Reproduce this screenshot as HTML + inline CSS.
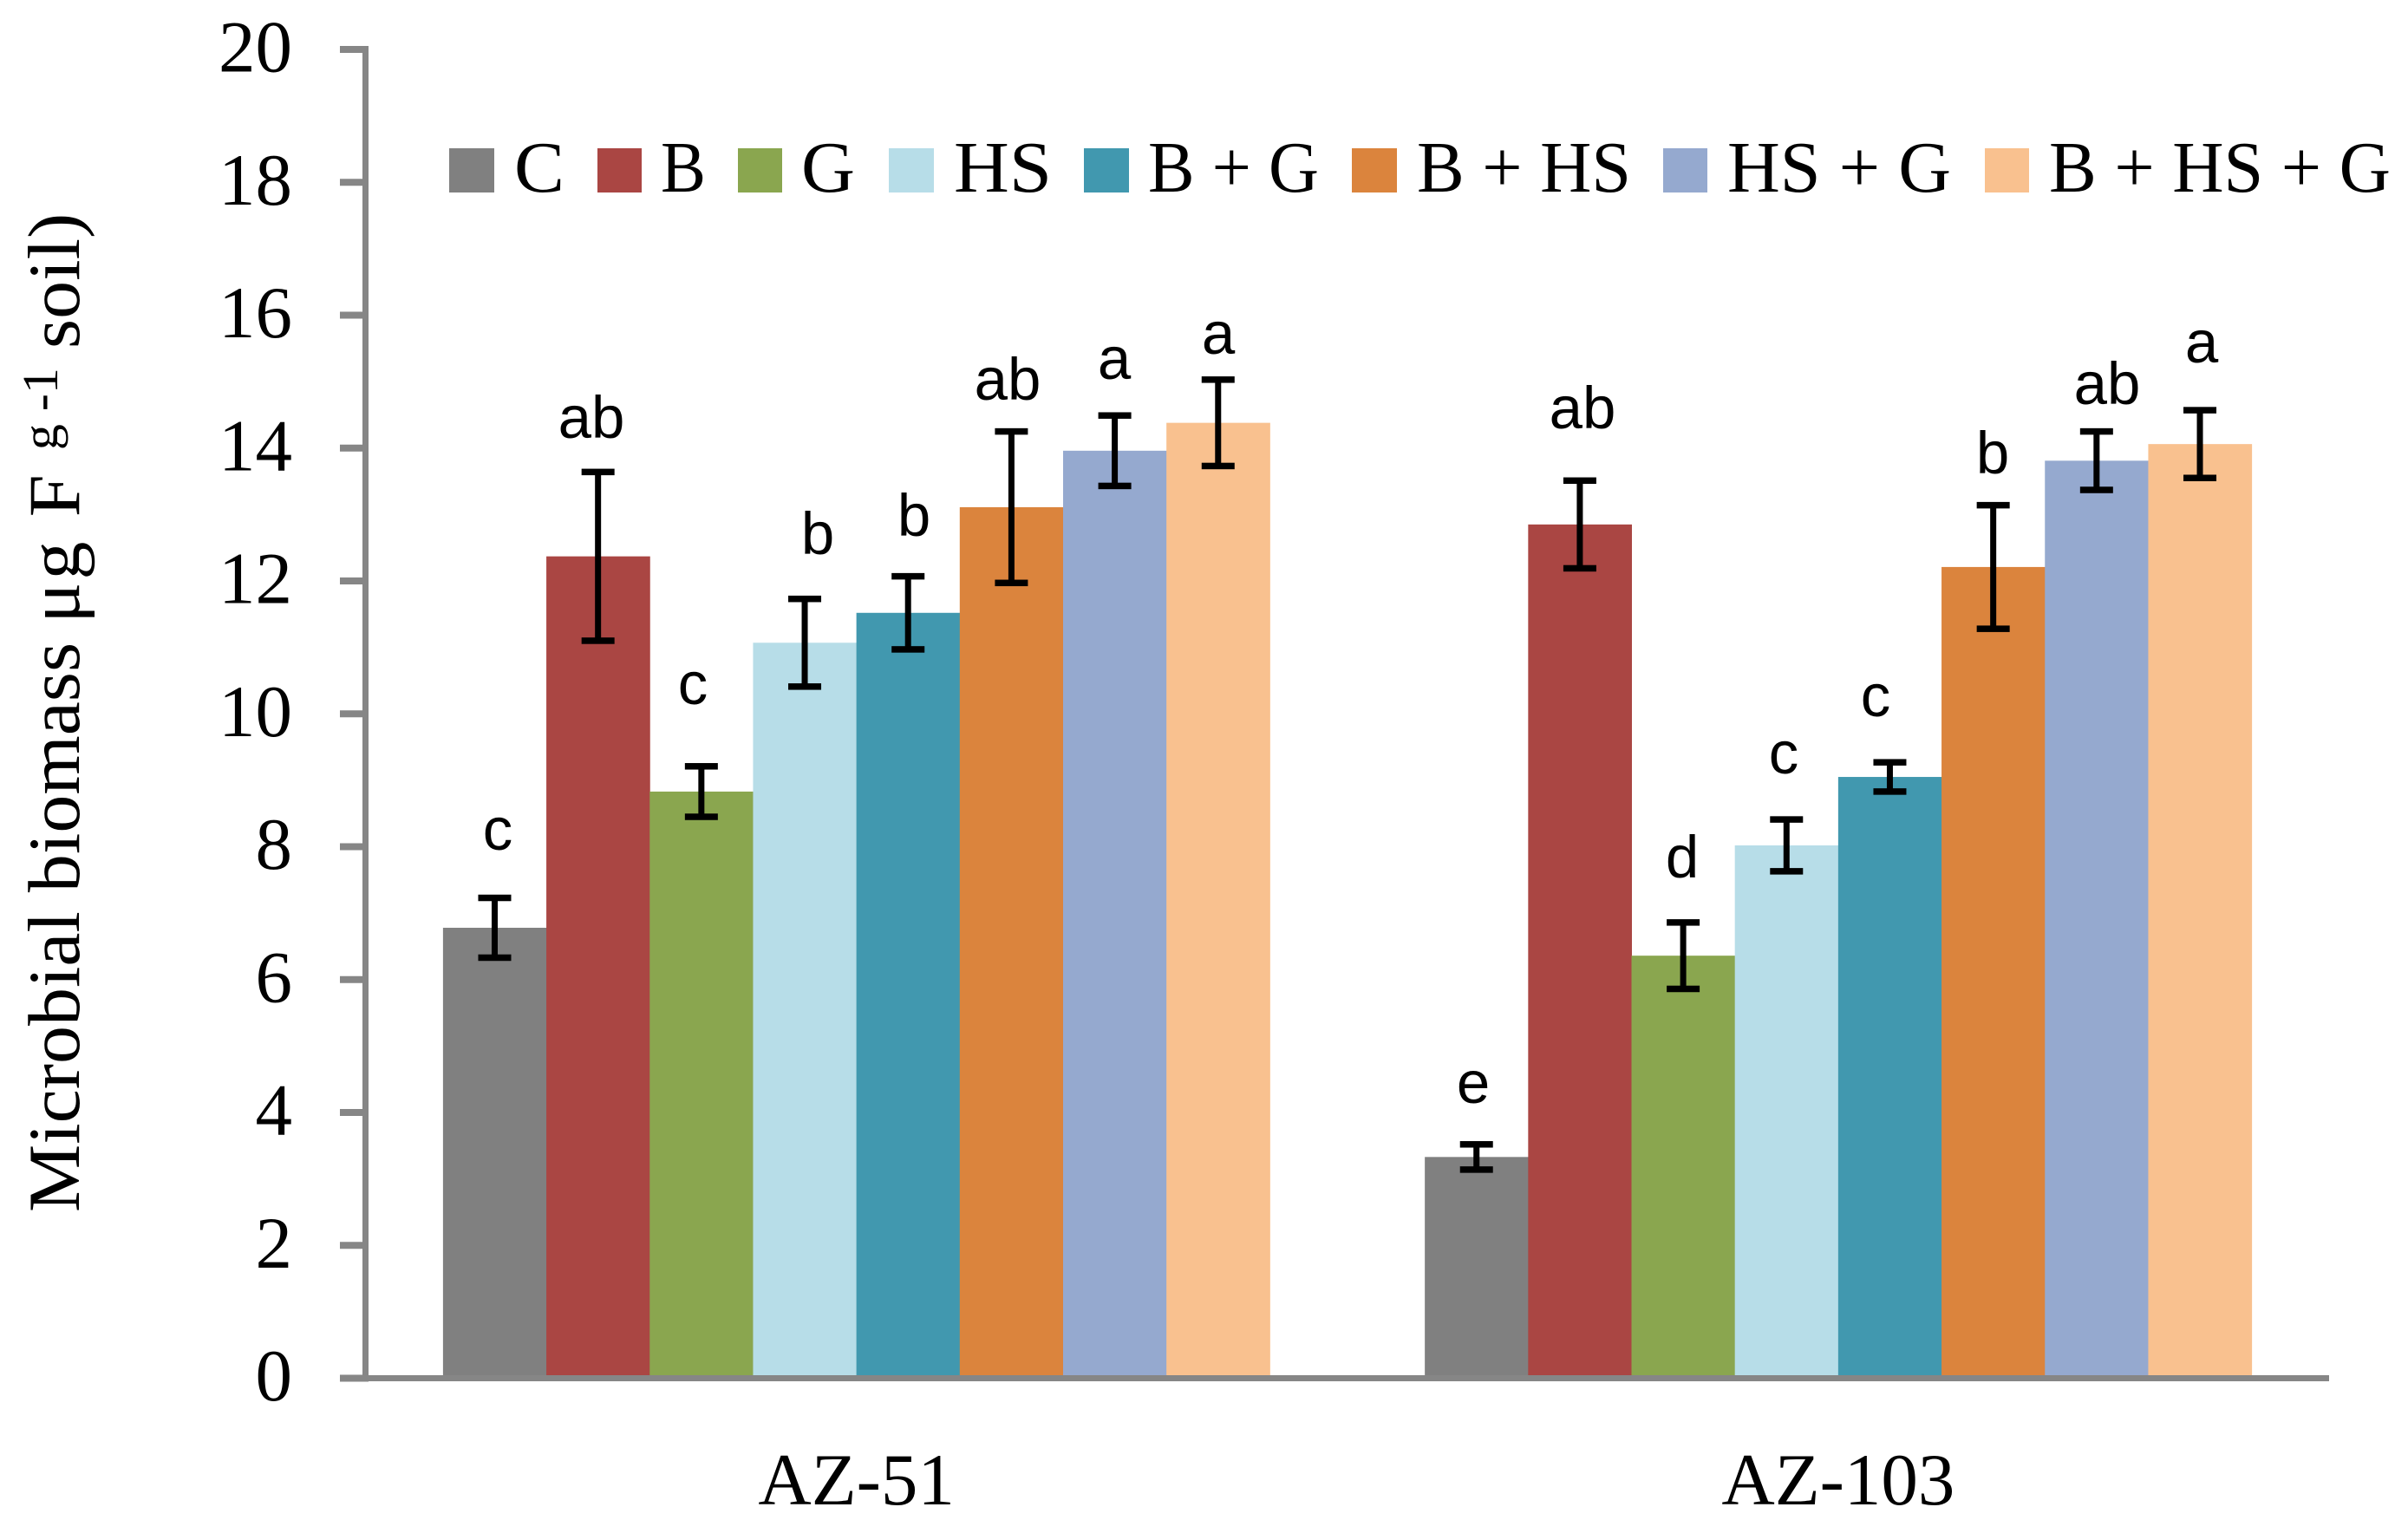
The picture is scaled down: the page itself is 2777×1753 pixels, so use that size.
<!DOCTYPE html>
<html lang="en">
<head>
<meta charset="utf-8">
<title>Microbial biomass chart</title>
<style>
  html, body { margin: 0; padding: 0; background: #fff; }
  svg { display: block; }
  .serif { font-family: "Liberation Serif", serif; fill: #000; }
  .tick-text { font-size: 85px; text-anchor: end; }
  .cat-text { font-size: 85px; text-anchor: middle; }
  .legend-text { font-size: 84px; }
  .title-text { font-size: 85px; }
  .title-sup { font-size: 58px; }
  .title-unit { letter-spacing: 3px; }
  .letter { font-family: "Liberation Sans", sans-serif; font-size: 69px; text-anchor: middle; fill: #000; }
  .axis { fill: #868686; }
  .err { fill: #000; }
  .s0 { fill: #808080; }
  .s1 { fill: #aa4643; }
  .s2 { fill: #8aa64f; }
  .s3 { fill: #b7dde8; }
  .s4 { fill: #4198af; }
  .s5 { fill: #db843d; }
  .s6 { fill: #95a9cf; }
  .s7 { fill: #f9c18f; }
</style>
</head>
<body>
<svg id="chart" xmlns="http://www.w3.org/2000/svg" width="2777" height="1753" viewBox="0 0 2777 1753">
  <rect x="0" y="0" width="2777" height="1753" fill="#fff"/>
  <g id="bars"></g>
  <g id="errors"></g>
  <g id="axes"></g>

  <text class="serif title-text" transform="translate(91,1398) rotate(-90) scale(1.035,1)">Microbial biomass <tspan class="title-unit">μg F </tspan><tspan class="title-sup" dy="-25">g -1</tspan><tspan dy="25"> soil)</tspan></text>

  <g>
    <g><rect class="s0" x="518" y="171" width="52" height="51"/><text class="serif legend-text" x="593" y="221" textLength="58" lengthAdjust="spacingAndGlyphs">C</text></g>
    <g><rect class="s1" x="689" y="171" width="51" height="51"/><text class="serif legend-text" x="762" y="221" textLength="52" lengthAdjust="spacingAndGlyphs">B</text></g>
    <g><rect class="s2" x="851" y="171" width="51" height="51"/><text class="serif legend-text" x="924" y="221" textLength="62" lengthAdjust="spacingAndGlyphs">G</text></g>
    <g><rect class="s3" x="1025" y="171" width="52" height="51"/><text class="serif legend-text" x="1100" y="221" textLength="113" lengthAdjust="spacingAndGlyphs">HS</text></g>
    <g><rect class="s4" x="1250" y="171" width="52" height="51"/><text class="serif legend-text" x="1324" y="221" textLength="197" lengthAdjust="spacingAndGlyphs">B + G</text></g>
    <g><rect class="s5" x="1559" y="171" width="52" height="51"/><text class="serif legend-text" x="1634" y="221" textLength="247" lengthAdjust="spacingAndGlyphs">B + HS</text></g>
    <g><rect class="s6" x="1918" y="171" width="51" height="51"/><text class="serif legend-text" x="1992" y="221" textLength="258" lengthAdjust="spacingAndGlyphs">HS + G</text></g>
    <g><rect class="s7" x="2289" y="171" width="51" height="51"/><text class="serif legend-text" x="2363" y="221" textLength="394" lengthAdjust="spacingAndGlyphs">B + HS + G</text></g>
  </g>

  <g>
    <text class="letter" x="574" y="980">c</text>
    <text class="letter" x="682" y="505">ab</text>
    <text class="letter" x="799" y="812">c</text>
    <text class="letter" x="943" y="639">b</text>
    <text class="letter" x="1054" y="618">b</text>
    <text class="letter" x="1162" y="461">ab</text>
    <text class="letter" x="1285" y="437">a</text>
    <text class="letter" x="1405" y="408">a</text>
  </g>
  <g>
    <text class="letter" x="1699" y="1272">e</text>
    <text class="letter" x="1825" y="494">ab</text>
    <text class="letter" x="1940" y="1012">d</text>
    <text class="letter" x="2057" y="892">c</text>
    <text class="letter" x="2163" y="826">c</text>
    <text class="letter" x="2298" y="546">b</text>
    <text class="letter" x="2430" y="466">ab</text>
    <text class="letter" x="2539" y="418">a</text>
  </g>
</svg>
<script>
const categories = ["AZ-51", "AZ-103"];
const seriesNames = ["C", "B", "G", "HS", "B + G", "B + HS", "HS + G", "B + HS + G"];
const az51Values = [6.78, 12.37, 8.83, 11.07, 11.52, 13.11, 13.96, 14.38];
const az103Values = [3.33, 12.85, 6.36, 8.02, 9.05, 12.21, 13.81, 14.06];
const az51Errors = [0.45, 1.27, 0.38, 0.66, 0.55, 1.14, 0.53, 0.65];
const az103Errors = [0.19, 0.66, 0.50, 0.39, 0.22, 0.93, 0.44, 0.51];
const yTicks = [0, 2, 4, 6, 8, 10, 12, 14, 16, 18, 20];

const SVG_NS = "http://www.w3.org/2000/svg";
const plotLeft = 421.5, plotRight = 2686, plotTop = 57, plotBottom = 1589.5;
const yMax = 20, gapBars = 1.5;
const catWidth = (plotRight - plotLeft) / categories.length;
const barWidth = catWidth / (seriesNames.length + gapBars);

function yScale(v) {
  return plotBottom - (v / yMax) * (plotBottom - plotTop);
}
function barLeft(catIndex, seriesIndex) {
  const center = plotLeft + catWidth * (catIndex + 0.5);
  return center - barWidth * seriesNames.length / 2 + barWidth * seriesIndex;
}
function makeRect(parent, x, y, w, h, cls) {
  const r = document.createElementNS(SVG_NS, "rect");
  r.setAttribute("x", x);
  r.setAttribute("y", y);
  r.setAttribute("width", w);
  r.setAttribute("height", h);
  r.setAttribute("class", cls);
  parent.appendChild(r);
  return r;
}

const barsGroup = document.getElementById("bars");
const errorsGroup = document.getElementById("errors");
const axesGroup = document.getElementById("axes");
const valuesByCategory = [az51Values, az103Values];
const errorsByCategory = [az51Errors, az103Errors];

categories.forEach(function (cat, c) {
  seriesNames.forEach(function (name, s) {
    const value = valuesByCategory[c][s];
    const err = errorsByCategory[c][s];
    const x = barLeft(c, s);
    const bar = makeRect(barsGroup, x, yScale(value), barWidth + 0.5, plotBottom - yScale(value), "s" + s);
    
    
    bar.setAttribute("data-series", name);
    bar.setAttribute("data-category", cat);

    const cx = x + barWidth / 2;
    const top = yScale(value + err);
    const bottom = yScale(value - err);
    const g = document.createElementNS(SVG_NS, "g");
    
    
    makeRect(g, cx - 3.5, top, 7, bottom - top, "err");
    makeRect(g, cx - 19, top - 3.75, 38, 7.5, "err");
    makeRect(g, cx - 19, bottom - 3.75, 38, 7.5, "err");
    errorsGroup.appendChild(g);
  });
});

const yAxisLine = makeRect(axesGroup, plotLeft - 3.5, plotTop, 7, plotBottom - plotTop, "axis");



const xAxisLine = makeRect(axesGroup, 392, plotBottom - 3.5, plotRight - 392, 7, "axis");



yTicks.forEach(function (t) {
  const y = yScale(t);
  const mark = makeRect(axesGroup, 392, y - 4, plotLeft + 3.5 - 392, 8, "axis");
  
  

  const label = document.createElementNS(SVG_NS, "text");
  label.setAttribute("x", 337);
  label.setAttribute("y", y + 25.5);
  label.setAttribute("class", "serif tick-text");
  
  
  label.textContent = String(t);
  axesGroup.appendChild(label);
});

categories.forEach(function (cat, c) {
  const label = document.createElementNS(SVG_NS, "text");
  label.setAttribute("x", plotLeft + catWidth * (c + 0.5));
  label.setAttribute("y", 1735);
  label.setAttribute("class", "serif cat-text");
  
  
  label.textContent = cat;
  axesGroup.appendChild(label);
});
</script>
</body>
</html>
